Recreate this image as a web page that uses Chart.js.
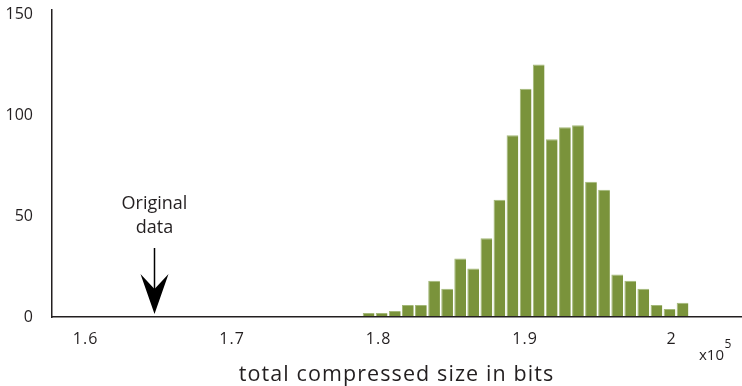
<!DOCTYPE html>
<html>
<head>
<meta charset="utf-8">
<title>Total compressed size</title>
<script src="https://cdn.jsdelivr.net/npm/chart.js@4/dist/chart.umd.min.js"></script>
<style>
  html, body { margin: 0; padding: 0; background: #ffffff; }
  #wrap { width: 742px; height: 386px; position: relative; }
</style>
</head>
<body>
<div id="wrap"><canvas id="chart" width="742" height="386"></canvas></div>
<script>
// Histogram of total compressed size (units of 1e5 bits)
const binCenters = [
  1.7932, 1.8021, 1.8111, 1.8200, 1.8289, 1.8379, 1.8468, 1.8557, 1.8646,
  1.8736, 1.8825, 1.8914, 1.9004, 1.9093, 1.9182, 1.9272, 1.9361, 1.9450,
  1.9539, 1.9629, 1.9718, 1.9807, 1.9897, 1.9986, 2.0075
];
const counts = [
  2, 2, 3, 6, 6, 18, 14, 29, 24,
  39, 58, 90, 113, 125, 88, 94, 95, 67,
  63, 21, 18, 14, 6, 4, 7
];
const xTicks = [1.6, 1.7, 1.8, 1.9, 2.0];
const xTickLabels = ['1.6', '1.7', '1.8', '1.9', '2'];
const yTicks = [0, 50, 100, 150];
const yTickLabels = ['0', '50', '100', '150'];
const originalSize = 1.6464;
const originalLabel = ['Original', 'data'];
const xTitle = 'total compressed size in bits';
const xExponent = ['x10', '5'];

const FONT = '"Open Sans", "Noto Sans", sans-serif';
const INK = '#231f20';
const BAR = '#7a933b';

// Arrow marking the uncompressed data, the x10^5 multiplier, and
// letter spacing for the x-axis texts (drawn after the bars).
const annotations = {
  id: 'annotations',
  afterDatasetsDraw(chart) {
    const { ctx, scales: { x, y }, chartArea } = chart;
    const ax = Math.round(x.getPixelForValue(originalSize)) + 0.5;
    const base = y.getPixelForValue(0);
    const tipY = base - 3;
    ctx.save();
    ctx.letterSpacing = '0px';
    ctx.strokeStyle = '#000';
    ctx.lineWidth = 1.5;
    ctx.beginPath();
    ctx.moveTo(ax, tipY - 66);
    ctx.lineTo(ax, tipY - 25);
    ctx.stroke();
    ctx.fillStyle = '#000';
    ctx.beginPath();
    ctx.moveTo(ax, tipY);
    ctx.lineTo(ax - 14, tipY - 40);
    ctx.lineTo(ax, tipY - 25);
    ctx.lineTo(ax + 14, tipY - 40);
    ctx.closePath();
    ctx.fill();
    ctx.fillStyle = INK;
    ctx.font = '18px ' + FONT;
    ctx.textAlign = 'center';
    ctx.textBaseline = 'alphabetic';
    ctx.fillText(originalLabel[0], ax, tipY - 105);
    ctx.fillText(originalLabel[1], ax, tipY - 81);
    ctx.textAlign = 'left';
    ctx.font = '15px ' + FONT;
    const ex = chartArea.right - 42;
    ctx.fillText(xExponent[0], ex, 360);
    const w = ctx.measureText(xExponent[0]).width;
    ctx.font = '12px ' + FONT;
    ctx.fillText(xExponent[1], ex + w + 0.5, 348);
    ctx.restore();
    ctx.letterSpacing = '1.1px';
  },
  afterDraw(chart) {
    chart.ctx.letterSpacing = '0px';
  }
};

new Chart(document.getElementById('chart'), {
  type: 'bar',
  data: {
    datasets: [{
      data: binCenters.map((c, i) => ({ x: c, y: counts[i] })),
      backgroundColor: BAR,
      borderColor: '#a3b878',
      borderWidth: { left: 1, right: 0, top: 1, bottom: 0 },
      borderSkipped: false,
      barPercentage: 0.9,
      categoryPercentage: 1.0
    }]
  },
  options: {
    responsive: false,
    animation: false,
    events: [],
    layout: { padding: 0 },
    plugins: { legend: { display: false }, tooltip: { enabled: false } },
    scales: {
      x: {
        type: 'linear',
        min: 1.5771,
        max: 2.0474,
        offset: false,
        grid: { display: false, drawTicks: false, z: 1 },
        border: { display: true, color: INK, width: 1.5, z: 1 },
        afterBuildTicks: s => { s.ticks = xTicks.map(v => ({ value: v })); },
        afterFit: s => { s.height = 69; s.paddingLeft = 0; s.paddingRight = 1; },
        ticks: {
          autoSkip: false,
          maxRotation: 0,
          padding: 13,
          z: 1,
          color: INK,
          font: { family: FONT, size: 16 },
          callback: (v) => xTickLabels[xTicks.findIndex(t => Math.abs(t - v) < 1e-6)]
        },
        title: {
          display: true,
          text: xTitle,
          color: INK,
          font: { family: FONT, size: 21.5, lineHeight: 1 },
          padding: { top: 0, bottom: 0 }
        }
      },
      y: {
        min: 0,
        max: 152,
        grid: { display: false, drawTicks: false },
        border: { display: true, color: INK, width: 1.5 },
        afterBuildTicks: s => { s.ticks = yTicks.map(v => ({ value: v })); },
        afterFit: s => { s.width = 52; s.paddingTop = 10; s.paddingBottom = 0; },
        ticks: {
          padding: 19,
          color: INK,
          font: { family: FONT, size: 16 },
          callback: (v) => yTickLabels[yTicks.indexOf(v)]
        }
      }
    }
  },
  plugins: [annotations]
});
</script>
</body>
</html>
